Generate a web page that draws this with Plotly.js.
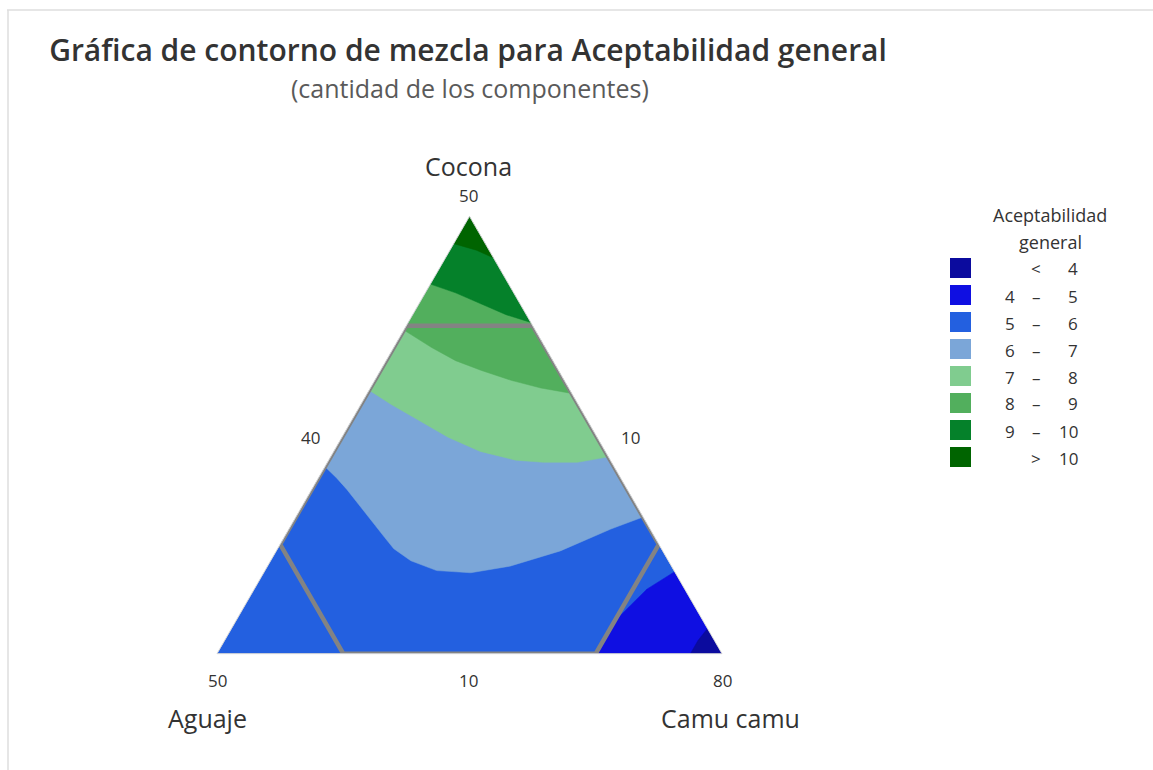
<!DOCTYPE html>
<html>
<head>
<meta charset="utf-8">
<script src="https://cdn.plot.ly/plotly-3.0.1.min.js"></script>
<style>html,body{margin:0;padding:0;background:#fff;}#chart{width:1153px;height:770px;}</style>
</head>
<body>
<div id="chart"></div>
<script>
// Component ranges (amounts, total = 100)
const componentNames = ["Cocona", "Aguaje", "Camu camu"];
const componentMin = [10, 10, 40];
const total = 100;

// Contour lines: [Cocona], [Aguaje], [Camu camu]
const c10_cocona = [47.5, 46.9, 46.2];
const c10_aguaje = [12.5, 11.0, 10.0];
const c10_camu   = [40.0, 42.1, 43.8];

const c9_cocona = [43.8, 43.0, 42.0, 41.0, 40.3];
const c9_aguaje = [16.2, 14.6, 13.1, 11.6, 10.0];
const c9_camu   = [40.0, 42.4, 44.9, 47.4, 49.7];

const c8_cocona = [39.6, 38.0, 36.8, 35.9, 35.0, 34.3, 33.8];
const c8_aguaje = [20.4, 19.0, 17.7, 16.1, 14.2, 12.2, 10.0];
const c8_camu   = [40.0, 43.0, 45.5, 48.0, 50.8, 53.5, 56.2];

const c7_cocona = [34.1, 32.8, 31.6, 29.8, 28.5, 27.7, 27.5, 27.5, 28.0];
const c7_aguaje = [25.9, 24.8, 23.6, 21.8, 19.9, 17.5, 15.4, 12.7, 10.0];
const c7_camu   = [40.0, 42.4, 44.8, 48.4, 51.6, 54.8, 57.1, 59.8, 62.0];

const c6_cocona = [27.1, 26.1, 25.0, 23.9, 22.8, 21.7, 20.6, 19.6, 18.5, 17.6, 17.4, 18.0, 19.4, 21.4, 22.5];
const c6_aguaje = [32.9, 32.5, 32.2, 32.0, 31.8, 31.6, 31.4, 31.2, 30.4, 28.8, 26.2, 22.8, 18.1, 13.1, 10.0];
const c6_camu   = [40.0, 41.4, 42.8, 44.1, 45.4, 46.7, 48.0, 49.2, 51.1, 53.6, 56.4, 59.2, 62.5, 65.5, 67.5];

const c5_cocona = [17.5, 15.9, 13.5, 12.0, 10.0];
const c5_aguaje = [10.0, 13.0, 16.3, 18.1, 20.1];
const c5_camu   = [72.5, 71.1, 70.2, 69.9, 69.9];

const c4_cocona = [12.3, 11.2, 10.0];
const c4_aguaje = [10.0, 11.3, 12.5];
const c4_camu   = [77.7, 77.5, 77.5];

// Vertices of the full simplex region
const vertex_cocona = [50, 10, 10];
const vertex_aguaje = [10, 50, 10];
const vertex_camu   = [40, 40, 80];

// Constrained (hexagonal) design region
const hex_cocona = [40, 40, 20, 10, 10, 20, 40, 40];
const hex_aguaje = [20, 10, 10, 20, 40, 40, 20, 10];
const hex_camu   = [40, 50, 70, 70, 50, 40, 40, 50];

// Legend bands
const bandLo = ["", "4", "5", "6", "7", "8", "9", ""];
const bandSym = ["<", "–", "–", "–", "–", "–", "–", ">"];
const bandHi = ["4", "5", "6", "7", "8", "9", "10", "10"];
const bandColors = ["#0B0B9E", "#0F0FE2", "#2360E0", "#7BA6D8", "#80CC8F", "#52AF5D", "#05812A", "#006400"];

// Vertex/edge labels
const vertexLabels = ["50", "50", "80"];
const edgeLabels = ["10", "10", "40"];

function poly(a, b, c, color) {
  return {type: "scatterternary", mode: "lines", a: a, b: b, c: c,
    fill: "toself", fillcolor: color, line: {color: color, width: 0.5},
    hoverinfo: "skip", showlegend: false};
}
const TOP = 0, BL = 1, BR = 2;
function withVertex(a, b, c, v) {
  return [a.concat([vertex_cocona[v]]), b.concat([vertex_aguaje[v]]), c.concat([vertex_camu[v]])];
}

const traces = [];
// base (5 - 6)
traces.push(poly(vertex_cocona, vertex_aguaje, vertex_camu, bandColors[2]));
// upper bands (superlevel regions)
[[c6_cocona, c6_aguaje, c6_camu, 3], [c7_cocona, c7_aguaje, c7_camu, 4], [c8_cocona, c8_aguaje, c8_camu, 5],
 [c9_cocona, c9_aguaje, c9_camu, 6], [c10_cocona, c10_aguaje, c10_camu, 7]].forEach(function (d) {
  const p = withVertex(d[0], d[1], d[2], TOP);
  traces.push(poly(p[0], p[1], p[2], bandColors[d[3]]));
});
// lower bands near Camu camu vertex
[[c5_cocona, c5_aguaje, c5_camu, 1], [c4_cocona, c4_aguaje, c4_camu, 0]].forEach(function (d) {
  const p = withVertex(d[0], d[1], d[2], BR);
  traces.push(poly(p[0], p[1], p[2], bandColors[d[3]]));
});
// hexagon outline
traces.push({type: "scatterternary", mode: "lines", a: hex_cocona, b: hex_aguaje, c: hex_camu,
  line: {color: "#838383", width: 4.5}, hoverinfo: "skip", showlegend: false});

const W = 1153, H = 770;
const px = x => x / W, py = y => 1 - y / H;
const FONT = "Open Sans, Noto Sans, sans-serif";
const TXT = "#333333";

const axisCommon = {showticklabels: false, ticks: "", showgrid: false, showline: true,
  linecolor: "#d6d6d6", linewidth: 1, title: {text: ""}};

const annotations = [];
function ann(text, x, y, size, opts) {
  annotations.push(Object.assign({text: text, x: px(x), y: py(y), xref: "paper", yref: "paper",
    showarrow: false, xanchor: "center", yanchor: "middle", font: {family: FONT, size: size, color: TXT}}, opts || {}));
}
ann("(cantidad de los componentes)", 470, 88, 25, {font: {family: FONT, size: 25, color: "#5a5a5a"}});
ann(componentNames[0], 468, 166, 25);
ann(componentNames[1], 207, 718, 25);
ann(componentNames[2], 730, 718, 25);
ann(vertexLabels[0], 468, 195, 17);
ann(vertexLabels[1], 217, 680, 17);
ann(vertexLabels[2], 722, 680, 17);
ann(edgeLabels[0], 468, 680, 17);
ann(edgeLabels[1], 630, 437, 17);
ann(edgeLabels[2], 310, 437, 17);
// legend
ann("Aceptabilidad", 1050, 215, 18);
ann("general", 1050, 242, 18);
const shapes = [
  {type: "line", xref: "paper", yref: "paper", x0: px(7), x1: 1, y0: py(10), y1: py(10), line: {color: "#dedede", width: 1.5}},
  {type: "line", xref: "paper", yref: "paper", x0: px(8), x1: px(8), y0: py(10), y1: 0, line: {color: "#dedede", width: 1.5}}
];
for (let i = 0; i < bandColors.length; i++) {
  const yc = 268 + i * 27;
  shapes.push({type: "rect", xref: "paper", yref: "paper", x0: px(950), x1: px(971), y0: py(yc - 10), y1: py(yc + 10),
    fillcolor: bandColors[i], line: {width: 0}});
  if (bandLo[i]) ann(bandLo[i], 1017, yc + 1, 17, {xanchor: "right"});
  ann(bandSym[i], 1036, yc + 1, 17);
  ann(bandHi[i], 1080, yc + 1, 17, {xanchor: "right"});
}

const layout = {
  width: W, height: H,
  margin: {l: 0, r: 0, t: 0, b: 0},
  paper_bgcolor: "#ffffff",
  title: {text: "Gráfica de contorno de mezcla para Aceptabilidad general", x: px(468), xanchor: "center",
    y: py(50), yanchor: "middle", xref: "paper", yref: "paper",
    font: {family: FONT, size: 30, color: "#333333", weight: 600}},
  ternary: {
    sum: total,
    domain: {x: [px(217), px(722)], y: [py(655), py(215)]},
    bgcolor: "rgba(0,0,0,0)",
    aaxis: Object.assign({min: componentMin[0]}, axisCommon),
    baxis: Object.assign({min: componentMin[1]}, axisCommon),
    caxis: Object.assign({min: componentMin[2]}, axisCommon)
  },
  annotations: annotations,
  shapes: shapes,
  showlegend: false
};

Plotly.newPlot("chart", traces, layout, {displayModeBar: false, staticPlot: true});
</script>
</body>
</html>
